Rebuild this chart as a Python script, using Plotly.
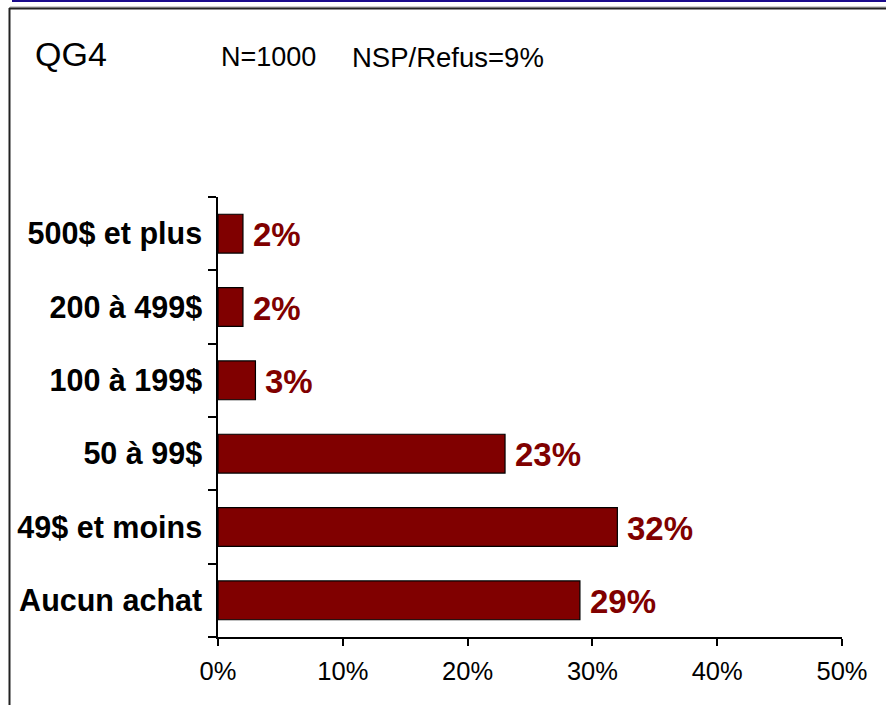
import plotly.graph_objects as go

categories = ["Aucun achat", "49$ et moins", "50 à 99$", "100 à 199$", "200 à 499$", "500$ et plus"]
values = [29, 32, 23, 3, 2, 2]
x_ticks = [0, 10, 20, 30, 40, 50]
x_tick_labels = ["0%", "10%", "20%", "30%", "40%", "50%"]
title_text = "QG4"
sample_text = "N=1000"
refusal_text = "NSP/Refus=9%"

L, R, T, B = 218, 44, 197, 68
W, H = 886, 705
pw, ph = W - L - R, H - T - B

def px_x(p):
    return (p - L) / pw

def px_y(p):
    return (H - B - p) / ph

FONT = "Liberation Sans, Arial"

fig = go.Figure(go.Bar(
    y=categories, x=values, orientation="h",
    marker=dict(color="#800000", line=dict(color="#000000", width=1.2)),
    width=0.53,
))

annotations = [
    dict(x=v, y=c, xref="x", yref="y", text=f"{v}%", showarrow=False,
         xanchor="left", yanchor="middle", xshift=8, yshift=-1,
         font=dict(size=33, family=FONT, color="#800000", weight="bold"))
    for c, v in zip(categories, values)
]
annotations += [
    dict(text=title_text, xref="paper", yref="paper", x=px_x(33), y=px_y(54),
         xanchor="left", yanchor="middle", showarrow=False,
         font=dict(size=34, family=FONT, color="black")),
    dict(text=sample_text, xref="paper", yref="paper", x=px_x(219), y=px_y(57),
         xanchor="left", yanchor="middle", showarrow=False,
         font=dict(size=27, family=FONT, color="black")),
    dict(text=refusal_text, xref="paper", yref="paper", x=px_x(350), y=px_y(57),
         xanchor="left", yanchor="middle", showarrow=False,
         font=dict(size=27.5, family=FONT, color="black")),
]

fig.update_layout(
    width=W, height=H,
    margin=dict(l=L, r=R, t=T, b=B, pad=0),
    plot_bgcolor="white", paper_bgcolor="white",
    showlegend=False,
    font=dict(family=FONT, color="black"),
    xaxis=dict(
        range=[0, 50], tickvals=x_ticks, ticktext=x_tick_labels,
        showgrid=False, zeroline=False, showline=True, linecolor="black", linewidth=1.5,
        ticks="outside", ticklen=7, tickwidth=1.5, tickcolor="black",
        tickfont=dict(size=25.5, family=FONT),
        ticklabelstandoff=4,
    ),
    yaxis=dict(
        categoryorder="array", categoryarray=categories,
        range=[-0.5, 5.5],
        showgrid=False, zeroline=False, showline=True, linecolor="black", linewidth=1.5,
        ticks="outside", tickson="boundaries", ticklen=8, tickwidth=1.5, tickcolor="black",
        tickfont=dict(size=30.5, family=FONT, weight="bold"),
        ticklabelstandoff=8,
    ),
    shapes=[
        dict(type="line", xref="paper", yref="paper", x0=px_x(12), x1=px_x(886), y0=px_y(1), y1=px_y(1),
             line=dict(color="#1a0a8c", width=2)),
        dict(type="line", xref="paper", yref="paper", x0=px_x(10), x1=px_x(886), y0=px_y(7), y1=px_y(7),
             line=dict(color="#a0a0a0", width=1)),
        dict(type="line", xref="paper", yref="paper", x0=px_x(9), x1=px_x(886), y0=px_y(8.5), y1=px_y(8.5),
             line=dict(color="#222222", width=2)),
        dict(type="line", xref="paper", yref="paper", x0=px_x(9.5), x1=px_x(9.5), y0=px_y(8), y1=px_y(705),
             line=dict(color="#222222", width=2)),
    ],
    annotations=annotations,
)

fig.write_html("out.html", config={"displayModeBar": False},
               post_script="document.body.style.margin='0';document.body.style.overflow='hidden';")
